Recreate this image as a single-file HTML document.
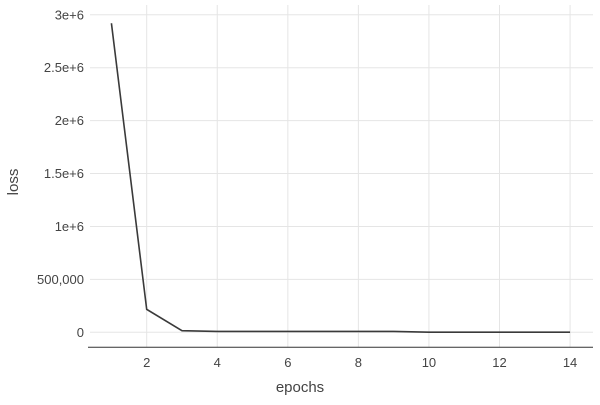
<!DOCTYPE html>
<html><head><style>
body{margin:0;background:#fff;}
svg text{font-family:"Liberation Sans",sans-serif;fill:#444;}
</style></head><body>
<svg width="600" height="400">
<g id="grid"></g><g id="axes"></g><g id="series"></g>
<text x="300" y="392" text-anchor="middle" font-size="15">epochs</text>
<text transform="translate(18,182) rotate(-90)" text-anchor="middle" font-size="15">loss</text>
</svg>
<script>
const epochs=[1,2,3,4,5,6,7,8,9,10,11,12,13,14];
const loss=[2920000,217000,15000,8000,8000,8000,8000,8000,8000,1000,1000,1000,1000,1000];
const xTicks=[2,4,6,8,10,12,14];
const yTicks=[0,500000,1000000,1500000,2000000,2500000,3000000];
const yLabels=["0","500,000","1e+6","1.5e+6","2e+6","2.5e+6","3e+6"];
const NS="http://www.w3.org/2000/svg";
const X=v=>146.7+(v-2)*35.28;
const Y=v=>332.3-v*(317.5/3000000);
function mk(t,a,p){const e=document.createElementNS(NS,t);for(const k in a)e.setAttribute(k,a[k]);p.appendChild(e);return e;}
const g=document.getElementById('grid'),ax=document.getElementById('axes'),s=document.getElementById('series');
xTicks.forEach(t=>{const l=mk('line',{x1:X(t),x2:X(t),y1:5,y2:347,stroke:'#e5e5e5'},g);


const tx=mk('text',{x:X(t),y:367,'text-anchor':'middle','font-size':13},ax);tx.textContent=t;

});
yTicks.forEach((t,i)=>{const l=mk('line',{x1:90,x2:593,y1:Y(t),y2:Y(t),stroke:'#e5e5e5'},g);


const tx=mk('text',{x:84,y:Y(t)+4.5,'text-anchor':'end','font-size':13},ax);tx.textContent=yLabels[i];

});
const a=mk('line',{x1:88,x2:593,y1:347.3,y2:347.3,stroke:'#333','stroke-width':1},ax);


const p=mk('polyline',{points:epochs.map((e,i)=>X(e)+','+Y(loss[i])).join(' '),fill:'none',stroke:'#3a3a3a','stroke-width':1.6},s);


</script>
</body></html>
